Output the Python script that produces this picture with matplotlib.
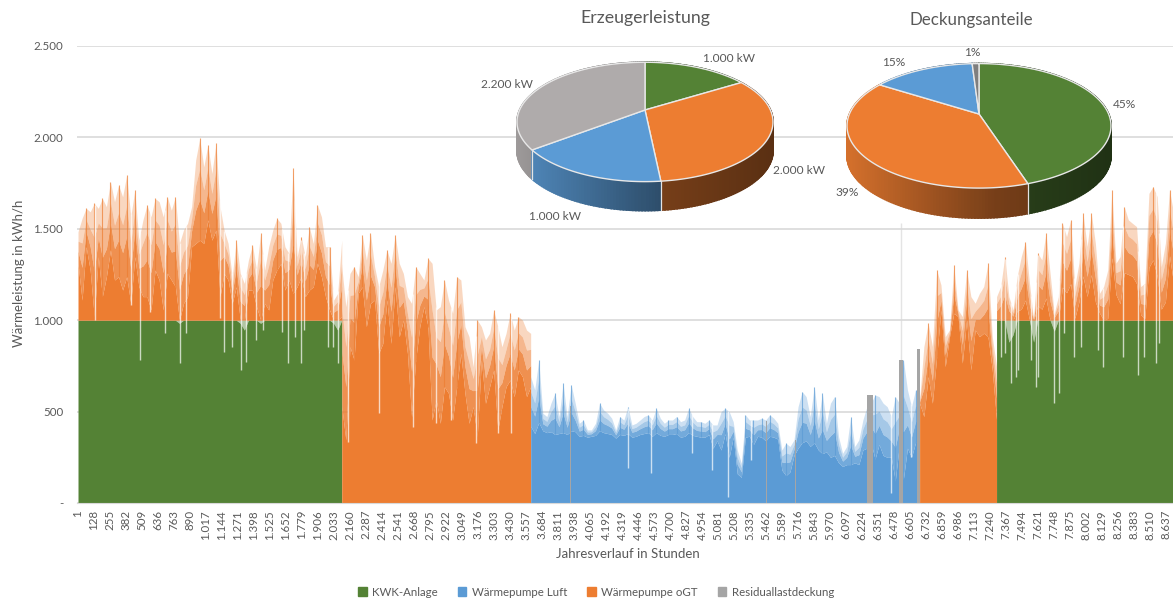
import numpy as np
import matplotlib
matplotlib.use('Agg')
import matplotlib.pyplot as plt
from matplotlib.patches import Patch, Polygon

plt.rcParams['font.family'] = ['Lato', 'DejaVu Sans']

# hour where each operating phase starts / ends
phase_edges = [1, 2095, 3595, 6683, 7294, 8700]

# peak = top of the spikes, body = solid part of the area
winter1_peak = [1484, 1557, 1612, 1593, 1639, 1612, 1666, 1621, 1757, 1648,
                1739, 1675, 1794, 1566, 1712, 1438, 1548, 1630, 1566, 1666,
                1648, 1566, 1675, 1602, 1675, 1420, 1493, 1530, 1621, 1876,
                1994, 1839, 1958, 1803, 1967, 1621, 1493, 1420, 1238, 1438,
                1256, 1201, 1329, 1411, 1274, 1475, 1274, 1402, 1493, 1557,
                1530, 1402, 1365, 1830, 1347, 1457, 1347, 1511, 1420, 1630,
                1566, 1402, 1402, 1110, 1147, 1438]
winter1_body = [1311, 1110, 1402, 1274, 1019, 1347, 1129, 1238, 1384, 1220,
                1238, 1165, 1238, 1092, 1347, 1183, 1129, 1129, 1056, 1274,
                1220, 1056, 1256, 1220, 1183, 983, 1092, 1129, 1402, 1420,
                1438, 1420, 1548, 1438, 1493, 1129, 1256, 1220, 1092, 1183,
                983, 946, 1165, 1165, 1074, 983, 1092, 1056, 1220, 1274,
                1311, 1165, 1220, 1147, 1183, 1238, 1129, 1165, 1183, 1311,
                1238, 1129, 1056, 983, 946, 1019]

spring_peak = [1293, 1074, 1256, 1293, 1238, 1466, 1329, 1475, 1293, 1183,
               1274, 1384, 1311, 1466, 1311, 1256, 1129, 1092, 1293, 1256,
               1220, 1338, 1311, 1056, 1074, 1220, 1110, 1038, 1238, 1220,
               965, 910, 746, 1001, 965, 892, 928, 1056, 965, 855,
               928, 1038, 946, 1019, 1001, 946, 928]
spring_body = [527, 345, 855, 782, 1147, 1183, 965, 1092, 1110, 819,
               873, 1110, 873, 1183, 910, 1001, 819, 472, 782, 965,
               1074, 965, 454, 564, 436, 636, 600, 454, 636, 819,
               600, 436, 527, 363, 782, 545, 636, 728, 399, 527,
               636, 673, 582, 728, 691, 582, 636]

summer_peak = [691, 619, 783, 491, 473, 546, 600, 473, 655, 473,
               646, 546, 436, 454, 400, 400, 436, 546, 509, 491,
               464, 400, 473, 454, 527, 427, 436, 454, 473, 482,
               454, 518, 464, 436, 454, 454, 473, 445, 454, 518,
               473, 445, 445, 436, 454, 427, 427, 500, 518, 500,
               445, 290, 217, 482, 454, 454, 454, 464, 454, 482,
               464, 436, 290, 327, 309, 345, 527, 609, 582, 473,
               637, 454, 600, 436, 546, 582, 363, 272, 309, 473,
               309, 345, 454, 527, 546, 591, 582, 546, 527, 473,
               582, 546, 783, 619, 527, 619, 591]
summer_body = [420, 380, 440, 395, 385, 390, 375, 380, 385, 375,
               395, 390, 365, 370, 360, 365, 370, 395, 385, 380,
               375, 355, 375, 370, 380, 360, 365, 375, 380, 385,
               365, 385, 370, 365, 375, 375, 380, 360, 365, 385,
               370, 365, 360, 360, 375, 300, 340, 290, 380, 250,
               360, 160, 140, 360, 365, 320, 365, 360, 340, 365,
               360, 350, 180, 150, 170, 260, 300, 330, 340, 310,
               330, 290, 270, 280, 250, 260, 220, 200, 210, 210,
               220, 210, 290, 300, 330, 240, 320, 260, 250, 250,
               120, 320, 130, 300, 250, 330, 340]

autumn_peak = [564, 856, 983, 856, 1275, 1193, 910, 947, 1302, 1056,
               1020, 1275, 1129, 1093, 1147, 1184, 1312, 910, 746]
autumn_body = [546, 473, 692, 546, 801, 1056, 746, 910, 1038, 1020,
               765, 1002, 728, 947, 910, 929, 910, 728, 455]

winter2_peak = [1129, 1184, 1348, 1129, 1056, 1239, 1348, 1430, 1202, 1002,
                1366, 1330, 1476, 1257, 1038, 1129, 1530, 1457, 1549, 1184,
                1312, 1585, 1403, 1585, 1421, 1147, 1184, 1275, 1713, 1312,
                1348, 1621, 1549, 1530, 1512, 1184, 1202, 1694, 1731, 1676,
                1293, 1421, 1713, 1585]
winter2_body = [1000, 1010, 1000, 880, 920, 1050, 1060, 1110, 1000, 880,
                1080, 1060, 1120, 1000, 940, 1000, 1180, 1150, 1200, 1010,
                1100, 1240, 1130, 1250, 1100, 1040, 1000, 1010, 1340, 1140,
                1090, 1260, 1250, 1240, 1200, 1030, 1010, 1290, 1330, 1240,
                1060, 1100, 1350, 1200]

# single hours with a drop of the demand
dip_hours = [138, 423, 497, 569, 688, 807, 860, 1125, 1164, 1222, 1297, 1336, 1416,
             1469, 1619, 1672, 1720, 1768, 1799, 1985, 2024, 2064,
             2144, 2393, 2658, 2843, 2962, 3160, 3332, 3438,
             4364, 4554, 4872, 5038, 5163, 5343, 6454, 6613,
             7329, 7361, 7408, 7448, 7461, 7567, 7607, 7620, 7747, 7792, 7832, 7911,
             7964, 8096, 8136, 8295, 8419, 8461, 8559, 8586]
dip_levels = [1001, 1083, 782, 1046, 928, 764, 928, 1010, 828, 855, 727, 773, 891,
              946, 937, 764, 910, 764, 946, 855, 855, 764,
              336, 491, 418, 436, 454, 327, 381, 381,
              190, 163, 272, 181, 35, 236, 53, 254,
              801, 819, 655, 692, 728, 783, 637, 692, 546, 601, 929, 801,
              856, 838, 746, 801, 701, 801, 765, 874]

# residual load, start hour, end hour, height
resid_start = [3908, 5464, 5694, 6265, 6520, 6665]
resid_end = [3918, 5474, 5704, 6313, 6550, 6690]
resid_level = [530, 450, 345, 590, 780, 840]
resid_spike_hour = 6532
resid_spike_level = 1530

y_ticks = [0, 500, 1000, 1500, 2000, 2500]
y_labels = ['-', '500', '1.000', '1.500', '2.000', '2.500']
x_ticks = list(range(1, 8638, 127))

legend_names = ['KWK-Anlage', 'Wärmepumpe Luft', 'Wärmepumpe oGT', 'Residuallastdeckung']

power_values = [1000, 2000, 1000, 2200]
power_labels = ['1.000 kW', '2.000 kW', '1.000 kW', '2.200 kW']
share_values = [45, 39, 15, 1]
share_labels = ['45%', '39%', '15%', '1%']

GREEN = '#548235'
BLUE = '#5B9BD5'
ORANGE = '#ED7D31'
GRAY = '#A5A5A5'
TEXT = '#595959'
GRID = '#D9D9D9'

peaks = [winter1_peak, spring_peak, summer_peak, autumn_peak, winter2_peak]
bodies = [winter1_body, spring_body, summer_body, autumn_body, winter2_body]

fig = plt.figure(figsize=(11.73, 6.01), dpi=100)
ax = fig.add_axes([77 / 1173, (601 - 503) / 601, 1096 / 1173, 457 / 601])

all_hours = []
all_peaks = []
for i in range(5):
    peak = np.array(peaks[i], dtype=float)
    body = np.array(bodies[i], dtype=float)
    hours = np.linspace(phase_edges[i], phase_edges[i + 1], len(body))
    top_color = BLUE if i == 2 else ORANGE
    if i in (0, 4):
        kwk = np.minimum(body, 1000)
        ax.fill_between(hours, 0, kwk, color=GREEN, linewidth=0, zorder=3)
        ax.fill_between(hours, kwk, 1000, color=GREEN, alpha=0.45, linewidth=0, zorder=3)
        base = np.maximum(body, 1000)
        ax.fill_between(hours, 1000, base, color=ORANGE, linewidth=0, zorder=3)
    else:
        base = body
        ax.fill_between(hours, 0, body, color=top_color, linewidth=0, zorder=3)
    # the area fades out from the solid part up to the spikes
    gap = np.maximum(peak - base, 0)
    ax.fill_between(hours, base, base + 0.4 * gap, color=top_color, alpha=0.85, linewidth=0, zorder=3)
    ax.fill_between(hours, base + 0.4 * gap, base + 0.7 * gap, color=top_color, alpha=0.55, linewidth=0, zorder=3)
    ax.fill_between(hours, base + 0.7 * gap, base + gap, color=top_color, alpha=0.3, linewidth=0, zorder=3)
    # only the local maxima get a sharp spike
    is_top = np.r_[False, (peak[1:-1] >= peak[:-2]) & (peak[1:-1] >= peak[2:]), False]
    ax.vlines(hours[is_top], base[is_top], peak[is_top], color=top_color, linewidth=0.8, alpha=0.7, zorder=3)
    all_hours.extend(hours)
    all_peaks.extend(peak)

dip_tops = np.interp(dip_hours, all_hours, all_peaks)
ax.vlines(dip_hours, dip_levels, dip_tops, color='white', linewidth=1, alpha=0.7, zorder=4)

resid_start = np.array(resid_start)
resid_end = np.array(resid_end)
ax.bar(resid_start, resid_level, width=resid_end - resid_start, align='edge', color=GRAY, linewidth=0, zorder=5)
ax.vlines(resid_spike_hour, 0, resid_spike_level, color=GRID, linewidth=1, alpha=0.7, zorder=2)

ax.set_xlim(-7, 8695)
ax.set_ylim(0, 2500)
ax.set_yticks(y_ticks)
ax.set_yticklabels(y_labels)
ax.set_xticks(x_ticks)
ax.set_xticklabels([f'{h:,}'.replace(',', '.') for h in x_ticks], rotation=90)
ax.tick_params(axis='both', length=0, labelsize=8.3, labelcolor=TEXT)
ax.tick_params(axis='x', pad=5)
ax.tick_params(axis='y', pad=10)
ax.yaxis.grid(True, color=GRID, linewidth=1.2, zorder=1)
ax.set_axisbelow(True)
for name in ['top', 'right', 'left']:
    ax.spines[name].set_visible(False)
ax.spines['bottom'].set_color(GRID)
ax.spines['bottom'].set_zorder(6)

fig.text(628 / 1173, 1 - 554 / 601, 'Jahresverlauf in Stunden', color=TEXT, fontsize=9.5, ha='center', va='center')
fig.text(19 / 1173, 1 - 273 / 601, 'Wärmeleistung in kWh/h', color=TEXT, fontsize=9.5, ha='center', va='center', rotation=90)

handles = [Patch(color=c) for c in [GREEN, BLUE, ORANGE, GRAY]]
fig.legend(handles, legend_names, loc='center', bbox_to_anchor=(596 / 1173, 1 - 592 / 601), ncol=4,
           frameon=False, fontsize=8.3, labelcolor=TEXT, handlelength=0.75, handleheight=0.75,
           handletextpad=0.45, columnspacing=1.75)

# pies are drawn in pixel coordinates on a transparent axes over the chart
pie_ax = fig.add_axes([0, 0, 1, 1], facecolor='none')
pie_ax.set_xlim(0, 1173)
pie_ax.set_ylim(601, 0)
pie_ax.axis('off')


def rim(theta, cx, cy, a, b, k):
    # circle seen under perspective, theta clockwise from 12 o'clock
    w = 1 + k * np.cos(theta)
    return cx + a * np.sin(theta) / w, cy - b * np.cos(theta) / w


def shade(color, factor):
    rgb = np.array(matplotlib.colors.to_rgb(color))
    return tuple(rgb * factor)


def draw_pie(values, colors, cx, cy, half_width, b, k, depth):
    a = half_width * np.sqrt(1 - k ** 2)
    edges = np.radians(np.concatenate([[0], np.cumsum(values)]) / np.sum(values) * 360)
    quads = []
    for i in range(len(values)):
        theta = np.arange(edges[i], edges[i + 1], 0.02)
        theta = np.append(theta, edges[i + 1])
        for t0, t1 in zip(theta[:-1], theta[1:]):
            x0, y0 = rim(t0, cx, cy, a, b, k)
            x1, y1 = rim(t1, cx, cy, a, b, k)
            pos = (0.5 * (x0 + x1) - cx + half_width) / (2 * half_width)
            factor = np.interp(pos, [0, 0.56, 1], [0.9, 0.5, 0.38])
            quads.append((max(y0, y1), [(x0, y0), (x1, y1), (x1, y1 + depth), (x0, y0 + depth)], shade(colors[i], factor)))
    quads.sort(key=lambda q: q[0])
    for _, pts, col in quads:
        pie_ax.add_patch(Polygon(pts, closed=True, facecolor=col, edgecolor=col, linewidth=1.2, zorder=7))
    for i in range(len(values)):
        x, y = rim(edges[i], cx, cy, a, b, k)
        if y > cy:
            pie_ax.plot([x, x], [y, y + depth], color='#E4E4E4', linewidth=0.9, zorder=8)
    for i in range(len(values)):
        theta = np.linspace(edges[i], edges[i + 1], 120)
        x, y = rim(theta, cx, cy, a, b, k)
        pts = np.column_stack([np.append(x, cx), np.append(y, cy)])
        pie_ax.add_patch(Polygon(pts, closed=True, facecolor=colors[i], edgecolor='#E8E8E8', linewidth=1, zorder=9))


draw_pie(power_values, [GREEN, ORANGE, BLUE, '#AFABAB'], 645, 110, 128, 57.3, 0.2, 29)
draw_pie(share_values, [GREEN, ORANGE, BLUE, '#7F7F7F'], 979, 114, 132, 60, 0.19, 30)

power_label_pos = [(729, 58), (799, 170), (555, 216), (507, 85)]
share_label_pos = [(1124, 105), (847, 193), (894, 62), (972, 53)]
for text, pos in zip(power_labels + share_labels, power_label_pos + share_label_pos):
    pie_ax.text(pos[0], pos[1], text, color=TEXT, fontsize=8.6, ha='center', va='center', zorder=10)

pie_ax.text(645, 18, 'Erzeugerleistung', color=TEXT, fontsize=12.8, ha='center', va='center', zorder=10)
pie_ax.text(971, 20, 'Deckungsanteile', color=TEXT, fontsize=12.2, ha='center', va='center', zorder=10)

fig.savefig('out.png', dpi=100)
